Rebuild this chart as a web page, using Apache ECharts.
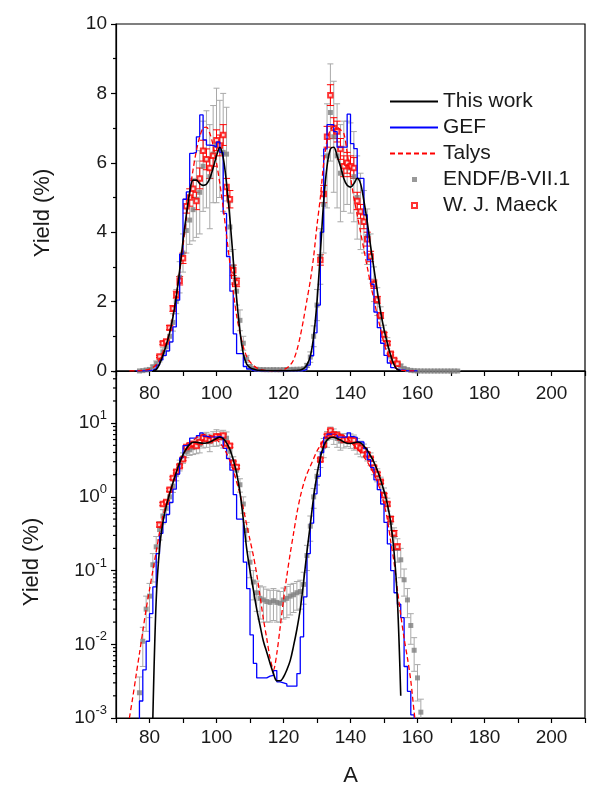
<!DOCTYPE html>
<html><head><meta charset="utf-8">
<script src="https://cdn.jsdelivr.net/npm/echarts@6/dist/echarts.min.js"></script>
<style>html,body{margin:0;padding:0;background:#fff}#c{width:591px;height:791px}</style>
</head><body><div id="c"></div>
<script>
// ---------- data ----------
const thisWorkA = [81,82,83,84,85,86,87,88,89,90,91,92,93,94,95,96,97,98,99,100,101,102,103,104,105,106,107,108,109,110,111,112,113,114,115,116,117,118,119,120,121,122,123,124,125,126,127,128,129,130,131,132,133,134,135,136,137,138,139,140,141,142,143,144,145,146,147,148,149,150,151,152,153,154,155];
const thisWorkY = [0.001,0.04,0.2,0.45,0.75,1.1,1.55,2.15,2.9,3.75,4.5,5.15,5.5,5.5,5.4,5.35,5.38,5.55,5.85,6.2,6.45,6.15,5.4,4.4,3.2,2.1,1.15,0.5,0.2,0.1,0.055,0.03,0.018,0.011,0.0078,0.0055,0.004,0.0032,0.0032,0.0036,0.0045,0.006,0.0095,0.016,0.03,0.07,0.18,0.42,1.0,2.0,3.4,4.9,5.9,6.4,6.45,6.2,5.9,5.55,5.35,5.3,5.4,5.55,5.4,4.9,4.3,3.6,2.95,2.3,1.7,1.2,0.8,0.45,0.18,0.04,0.002];

const gefA = [76,77,78,79,80,81,82,83,84,85,86,87,88,89,90,91,92,93,94,95,96,97,98,99,100,101,102,103,104,105,106,107,108,109,110,111,112,113,114,115,116,117,118,119,120,121,122,123,124,125,126,127,128,129,130,131,132,133,134,135,136,137,138,139,140,141,142,143,144,145,146,147,148,149,150,151,152,153,154,155,156,157,158,159,160];
const gefY = [0.0008,0.0017,0.0045,0.011,0.026,0.06,0.17,0.32,0.45,0.58,0.84,1.27,2.04,3.37,4.95,5.16,6.27,6.3,6.75,7.38,6.66,6.51,6.5,6.45,6.6,6.3,4.54,3.3,2.3,1.07,0.5,0.5,0.13,0.057,0.0134,0.0055,0.0035,0.0035,0.0035,0.0037,0.0038,0.0044,0.0031,0.003,0.0029,0.0027,0.0027,0.0027,0.004,0.0126,0.044,0.17,0.44,1.1,1.9,4.0,6.4,7.1,7.1,6.9,6.45,6.45,6.45,7.4,6.55,6.41,5.55,5.55,4.5,3.2,2.5,1.7,1.25,0.8,0.45,0.23,0.1,0.05,0.035,0.023,0.005,0.0023,0.0011,0.0008,0.0008];

const talysA = [74,75,76,77,78,79,80,81,82,83,84,85,86,87,88,89,90,91,92,93,94,95,96,97,98,99,100,101,102,103,104,105,106,107,108,109,110,111,112,113,114,115,116,117,118,119,120,121,122,123,124,125,126,127,128,129,130,131,132,133,134,135,136,137,138,139,140,141,142,143,144,145,146,147,148,149,150,151,152,153,154,155,156,157,158,159,160];
const talysY = [0.001,0.0019,0.0038,0.0075,0.015,0.03,0.055,0.1,0.18,0.33,0.55,0.8,1.15,1.6,2.2,2.85,3.6,4.4,5.15,5.8,6.35,6.75,7.0,7.03,6.85,6.5,6.0,5.4,4.7,3.9,3.1,2.3,1.6,1.1,0.7,0.42,0.26,0.16,0.09,0.045,0.022,0.012,0.0065,0.0045,0.0075,0.017,0.04,0.085,0.17,0.32,0.6,1.0,1.5,2.05,2.6,3.3,4.2,5.0,6.0,6.65,6.95,7.05,7.03,6.95,6.85,6.3,5.6,5.0,4.5,4.0,3.5,3.0,2.5,2.05,1.6,1.2,0.8,0.5,0.25,0.13,0.055,0.025,0.012,0.0065,0.0032,0.0012,0.0005];

const endfA = [77,78,79,80,81,82,83,84,85,86,87,88,89,90,91,92,93,94,95,96,97,98,99,100,101,102,103,104,105,106,107,108,109,110,111,112,113,114,115,116,117,118,119,120,121,122,123,124,125,126,127,128,129,130,131,132,133,134,135,136,137,138,139,140,141,142,143,144,145,146,147,148,149,150,151,152,153,154,155,156,157,158,159,160,161,162,163,164,165,166,167,168,169,170,171,172];
const endfY = [0.0022,0.011,0.03,0.045,0.12,0.21,0.36,0.55,0.7,1.0,1.4,2.0,2.7,3.4,4.05,4.35,4.65,4.95,5.15,5.9,6.1,5.6,6.25,6.5,6.4,6.3,6.25,4.15,3.0,2.3,1.46,0.8,0.35,0.13,0.07,0.05,0.042,0.04,0.038,0.037,0.039,0.037,0.036,0.04,0.042,0.045,0.047,0.05,0.052,0.065,0.16,0.4,1.0,1.9,3.3,4.8,6.2,7.45,6.75,6.2,5.7,5.9,6.0,5.85,5.6,5.0,4.6,4.3,3.87,3.3,2.5,2.0,1.55,1.1,0.8,0.45,0.3,0.2,0.14,0.075,0.04,0.018,0.0083,0.0035,0.0012,0.0005,0.0003,0.00015,0.00008,0.00004,0.00002,0.00001,0.000005,0.000003,0.000002,0.000001];
const endfErr = [0.0014,0.006,0.015,0.022,0.05,0.08,0.1,0.12,0.14,0.18,0.25,0.35,0.45,0.55,0.65,0.7,0.9,1.1,1.2,1.3,1.4,1.5,1.4,1.65,1.4,1.7,1.35,0.7,0.5,0.4,0.3,0.2,0.1,0.05,0.03,0.022,0.02,0.02,0.018,0.017,0.018,0.017,0.016,0.018,0.019,0.02,0.02,0.021,0.022,0.03,0.06,0.15,0.3,0.45,0.8,1.4,1.5,1.4,1.6,1.5,1.4,1.3,1.2,1.3,1.3,1.2,1.1,0.9,0.8,0.65,0.5,0.4,0.3,0.22,0.16,0.1,0.08,0.07,0.06,0.03,0.017,0.008,0.004,0.0018,0.0006,0.0002,0.0001,0.00006,0.00003,0.00002,0.00001,0.000005,0.000002,0.000001,0.000001,0.0000005];

const maeckA = [83,84,85,86,87,88,89,90,91,92,93,94,95,96,97,98,99,100,101,102,103,104,105,106,131,132,133,134,135,136,137,138,139,140,141,142,143,144,145,146,147,148,149,150,151,152,153,154];
const maeckY = [0.42,0.8,0.85,1.25,1.8,2.2,2.6,3.25,4.75,5.0,5.25,4.9,5.55,6.35,6.1,5.85,6.2,6.65,6.5,6.8,5.3,4.95,2.9,2.55,3.2,5.1,6.75,7.95,7.0,6.9,6.4,5.9,6.0,5.9,5.85,4.9,4.6,4.3,3.8,3.3,2.5,2.05,1.6,1.05,0.8,0.5,0.32,0.21];
const maeckErr = [0.03,0.04,0.04,0.06,0.08,0.1,0.12,0.15,0.2,0.25,0.25,0.25,0.3,0.3,0.3,0.3,0.3,0.3,0.3,0.3,0.25,0.25,0.15,0.12,0.15,0.25,0.3,0.3,0.3,0.3,0.3,0.3,0.3,0.3,0.3,0.25,0.2,0.2,0.2,0.15,0.12,0.1,0.08,0.06,0.05,0.04,0.03,0.02];

const xTickLabels = [80,100,120,140,160,180,200];
const logDecades = [-3, -2, -1, 0, 1];
const logMinorMultipliers = [2, 3, 4, 5, 6, 7, 8, 9];

// ---------- helpers ----------
const FONT = '"Liberation Sans", Arial, sans-serif';
const X_MIN = 70, X_MAX = 210;
const LOG_MIN = 0.001, LOG_MAX = 51;
const pairs = (a, y) => a.map((v, i) => [v, y[i]]);
const bars = (a, y, e) => a.map((v, i) => [v, y[i] - e[i], y[i] + e[i]]);
const logMinorTicks = [];
logDecades.forEach(d => logMinorMultipliers.forEach(m => {
  const v = m * Math.pow(10, d);
  if (v < LOG_MAX) logMinorTicks.push(v);
}));

function errSeries(name, data, color, cap, idx) {
  return {
    type: 'custom', name, xAxisIndex: idx, yAxisIndex: idx, data, clip: true, silent: true,
    encode: { x: 0, y: [1, 2] },
    renderItem(params, api) {
      const x = api.value(0);
      const p1 = api.coord([x, api.value(1)]);
      const p2 = api.coord([x, api.value(2)]);
      const st = { stroke: color, lineWidth: 1 };
      return { type: 'group', children: [
        { type: 'line', shape: { x1: p1[0], y1: p1[1], x2: p2[0], y2: p2[1] }, style: st },
        { type: 'line', shape: { x1: p1[0] - cap, y1: p1[1], x2: p1[0] + cap, y2: p1[1] }, style: st },
        { type: 'line', shape: { x1: p2[0] - cap, y1: p2[1], x2: p2[0] + cap, y2: p2[1] }, style: st }
      ]};
    }
  };
}

// minor log ticks on the left axis of the lower panel (axis decoration, placed through the axis scale)
const minorTickSeries = {
  type: 'custom', name: 'logMinorTicks', xAxisIndex: 1, yAxisIndex: 1, clip: false, silent: true, z: 5,
  data: logMinorTicks.map(v => [X_MIN, v]),
  encode: { x: 0, y: 1 },
  renderItem(params, api) {
    const p = api.coord([api.value(0), api.value(1)]);
    return { type: 'line', shape: { x1: p[0] - 3, y1: p[1], x2: p[0], y2: p[1] }, style: { stroke: '#000', lineWidth: 1.2 } };
  }
};

function panelSeries(idx) {
  return [
    errSeries('endfErr' + idx, bars(endfA, endfY, endfErr), '#a9a9a9', 3, idx),
    { type: 'scatter', name: 'ENDF/B-VII.1', xAxisIndex: idx, yAxisIndex: idx, data: pairs(endfA, endfY),
      symbol: 'rect', symbolSize: 5, itemStyle: { color: '#7f7f7f' }, clip: true, silent: true },
    errSeries('maeckErr' + idx, bars(maeckA, maeckY, maeckErr), '#ff0000', 3.5, idx),
    { type: 'scatter', name: 'W. J. Maeck', xAxisIndex: idx, yAxisIndex: idx, data: pairs(maeckA, maeckY),
      symbol: 'emptyRect', symbolSize: 4.5, itemStyle: { color: '#ff0000', borderWidth: 1 }, clip: true, silent: true },
    { type: 'line', name: 'GEF', xAxisIndex: idx, yAxisIndex: idx, data: pairs(gefA, gefY), step: 'end',
      showSymbol: false, symbol: 'none', lineStyle: { color: '#0000ff', width: 1.3 }, itemStyle: { color: '#0000ff' }, clip: true, silent: true },
    { type: 'line', name: 'Talys', xAxisIndex: idx, yAxisIndex: idx, data: pairs(talysA, talysY), smooth: 0.3,
      showSymbol: false, symbol: 'none', lineStyle: { color: '#ff0000', width: 1.3, type: [5, 3] }, itemStyle: { color: '#ff0000' }, clip: true, silent: true },
    { type: 'line', name: 'This work', xAxisIndex: idx, yAxisIndex: idx, data: pairs(thisWorkA, thisWorkY), smooth: 0.35,
      showSymbol: false, symbol: 'none', lineStyle: { color: '#000000', width: 1.6 }, itemStyle: { color: '#000000' }, clip: true, silent: true }
  ];
}

const axisLineStyle = { color: '#000', width: 1.2 };
const labelStyle = { fontSize: 19, fontFamily: FONT, color: '#1a1a1a' };
const legendText = { fontSize: 21, fontFamily: FONT, color: '#1a1a1a' };

function xAxis(idx, margin, name) {
  return {
    type: 'value', gridIndex: idx, min: X_MIN, max: X_MAX, interval: 10,
    axisLine: { show: true, onZero: false, lineStyle: axisLineStyle },
    axisTick: { show: true, inside: false, length: 5, lineStyle: axisLineStyle },
    splitLine: { show: false },
    axisLabel: Object.assign({ margin, formatter: v => xTickLabels.includes(v) ? String(v) : '' }, labelStyle),
    name: name || '', nameLocation: 'middle', nameGap: 47,
    nameTextStyle: { fontSize: 22, fontFamily: FONT, color: '#1a1a1a' }
  };
}

const option = {
  animation: false,
  backgroundColor: '#ffffff',
  grid: [
    { left: 116, top: 24, width: 469, height: 347, show: true, borderColor: '#000', borderWidth: 1.2, backgroundColor: 'transparent' },
    { left: 116, top: 371, width: 469, height: 347, show: true, borderColor: '#000', borderWidth: 1.2, backgroundColor: 'transparent' }
  ],
  xAxis: [ xAxis(0, 13), xAxis(1, 10, 'A') ],
  yAxis: [
    { type: 'value', gridIndex: 0, min: 0, max: 10, interval: 2,
      axisLine: { show: true, lineStyle: axisLineStyle },
      axisTick: { show: true, inside: false, length: 5, lineStyle: axisLineStyle },
      minorTick: { show: true, splitNumber: 2, length: 3, lineStyle: axisLineStyle },
      splitLine: { show: false },
      axisLabel: Object.assign({ margin: 9 }, labelStyle) },
    { type: 'log', gridIndex: 1, min: LOG_MIN, max: LOG_MAX, logBase: 10,
      axisLine: { show: true, lineStyle: axisLineStyle },
      axisTick: { show: true, inside: false, length: 5, lineStyle: axisLineStyle },
      splitLine: { show: false },
      axisLabel: { margin: 9, showMaxLabel: false, showMinLabel: true,
        formatter: v => { const e = Math.round(Math.log10(v)); return '{b|10}{s|' + e + '}'; },
        rich: {
          b: { fontSize: 19, fontFamily: FONT, color: '#1a1a1a', lineHeight: 28 },
          s: { fontSize: 13, fontFamily: FONT, color: '#1a1a1a', verticalAlign: 'top' }
        } } }
  ],
  legend: [
    {
      orient: 'vertical', left: 384, top: 86, itemWidth: 48, itemHeight: 5, itemGap: 5,
      selectedMode: false, textStyle: legendText,
      data: [
        { name: 'This work', itemStyle: { opacity: 0 } },
        { name: 'GEF', itemStyle: { opacity: 0 } },
        { name: 'Talys', itemStyle: { opacity: 0 } }
      ]
    },
    {
      orient: 'vertical', left: 406, top: 164, itemWidth: 5, itemHeight: 5, itemGap: 5,
      selectedMode: false, textStyle: Object.assign({ padding: [0, 0, 0, 21] }, legendText),
      data: ['ENDF/B-VII.1', 'W. J. Maeck']
    }
  ],
  graphic: [
    { type: 'text', x: 43, y: 213, rotation: Math.PI / 2,
      style: { text: 'Yield (%)', font: '22px ' + FONT, fill: '#1a1a1a', align: 'center', verticalAlign: 'middle' } },
    { type: 'text', x: 32, y: 562, rotation: Math.PI / 2,
      style: { text: 'Yield (%)', font: '22px ' + FONT, fill: '#1a1a1a', align: 'center', verticalAlign: 'middle' } }
  ],
  series: panelSeries(0).concat(panelSeries(1)).concat([minorTickSeries])
};

const chart = echarts.init(document.getElementById('c'), null, { renderer: 'canvas' });
chart.setOption(option);
</script>
</body></html>
